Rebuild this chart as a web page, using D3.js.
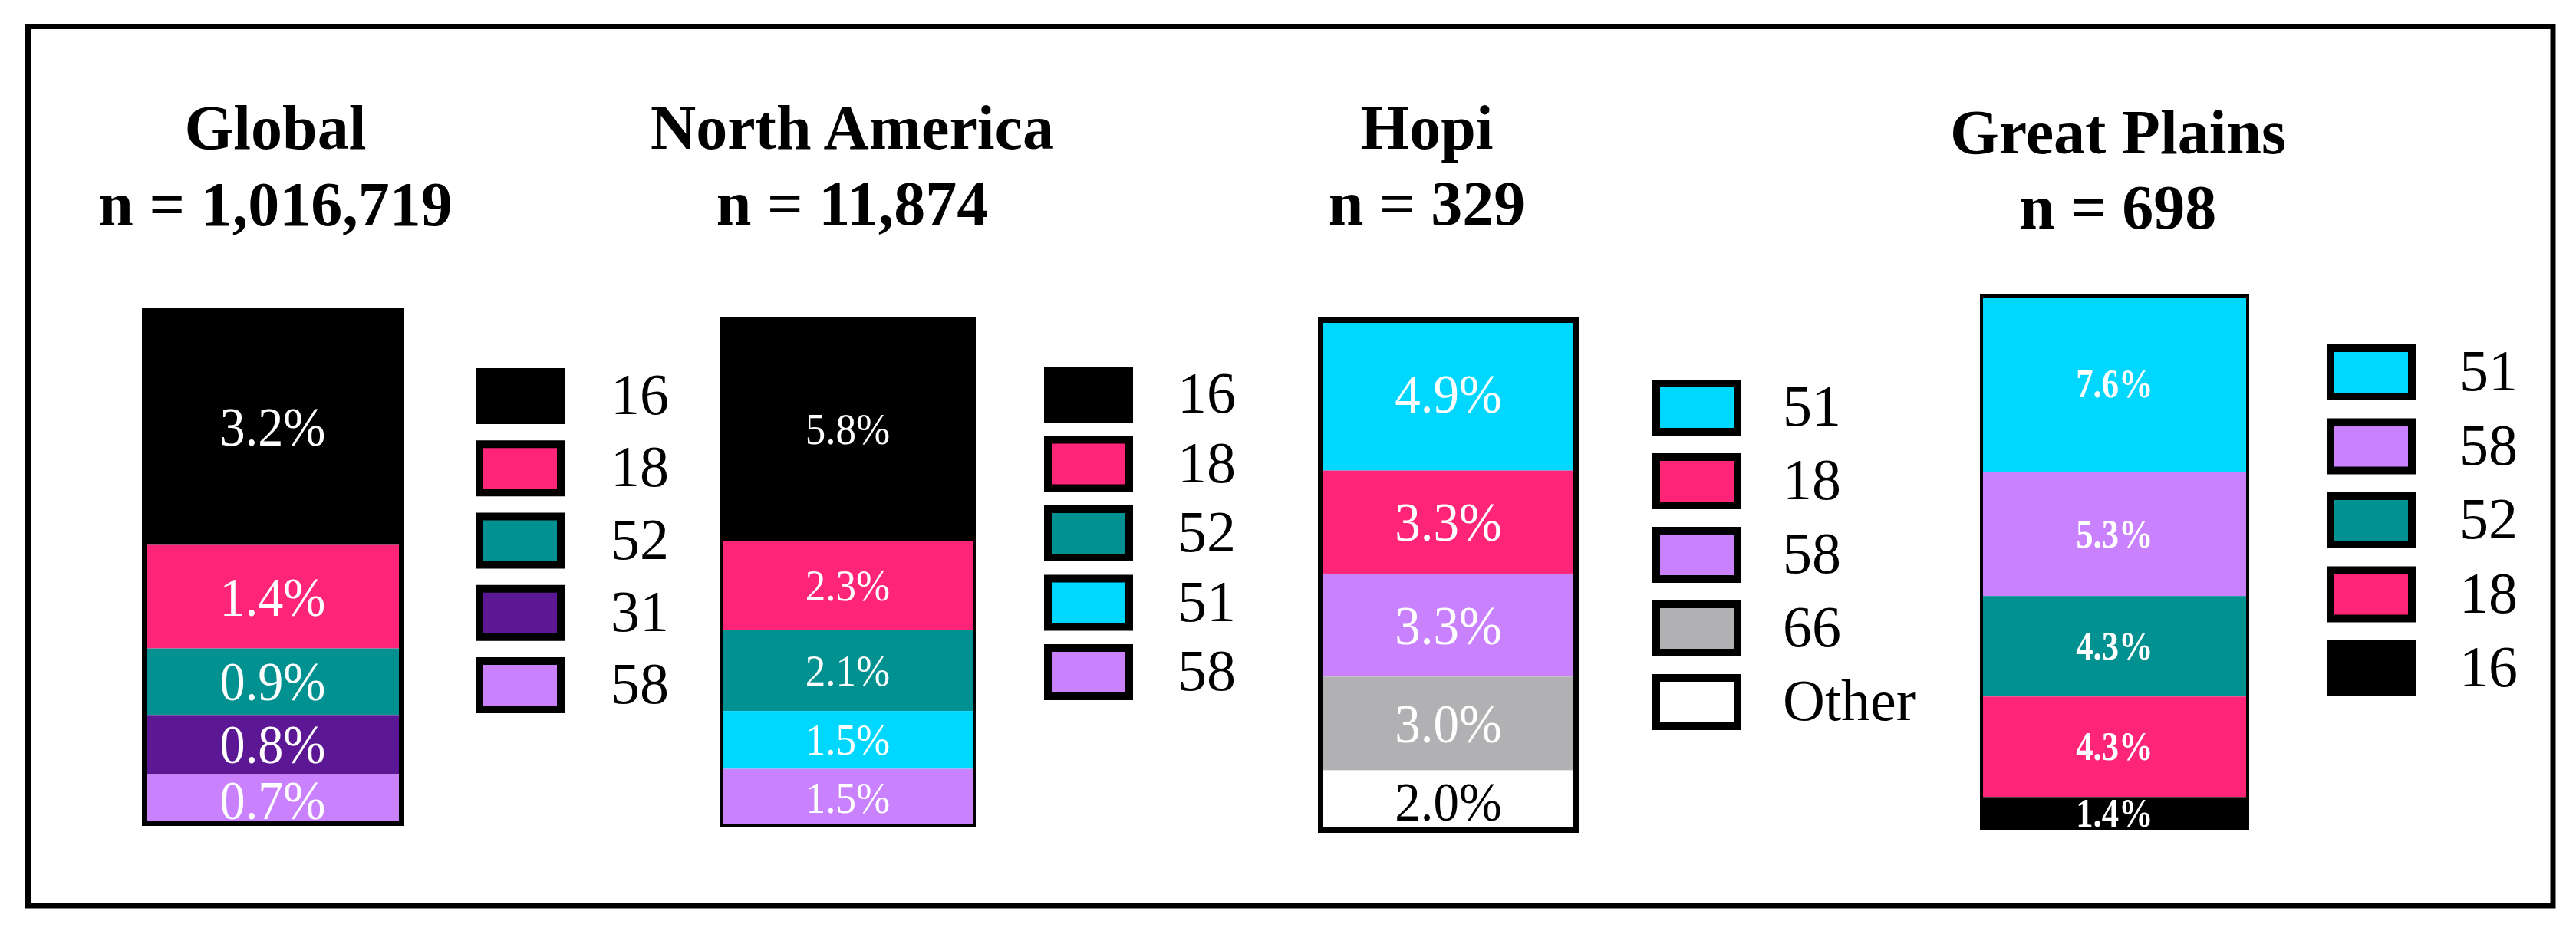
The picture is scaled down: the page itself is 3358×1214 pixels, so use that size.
<!DOCTYPE html>
<html>
<head>
<meta charset="utf-8">
<script src="https://cdn.jsdelivr.net/npm/d3@7"></script>
<style>
  html, body { margin: 0; padding: 0; background: #fff; }
  svg { display: block; }
</style>
</head>
<body>
<svg id="chart" width="3358" height="1214"></svg>
<script>
// ---------------- DATA ----------------
const regions = ["Global", "North America", "Hopi", "Great Plains"];
const sampleSizes = ["1,016,719", "11,874", "329", "698"];

const globalHaplogroups = ["16", "18", "52", "31", "58"];
const globalPercents    = [3.2, 1.4, 0.9, 0.8, 0.7];

const northAmericaHaplogroups = ["16", "18", "52", "51", "58"];
const northAmericaPercents    = [5.8, 2.3, 2.1, 1.5, 1.5];

const hopiHaplogroups = ["51", "18", "58", "66", "Other"];
const hopiPercents    = [4.9, 3.3, 3.3, 3.0, 2.0];

const greatPlainsHaplogroups = ["51", "58", "52", "18", "16"];
const greatPlainsPercents    = [7.6, 5.3, 4.3, 4.3, 1.4];

const haplogroupKeys   = ["16", "18", "52", "31", "58", "51", "66", "Other"];
const haplogroupColors = ["#000000", "#FE2478", "#009190", "#5C1794", "#C981FE", "#00D7FE", "#B1B1B4", "#FFFFFF"];

// ---------------- LAYOUT (positions/styles only) ----------------
const layout = [
  { x0: 185, x1: 526, top: 402, bottom: 1077, border: 6, tx: 359, ty1: 194, ty2: 294,
    lx: 620, lTop0: 480, lTop1: 857, labX: 796, fs: 72, bold: false, sx: 0.92 },
  { x0: 938, x1: 1272, top: 414, bottom: 1078, border: 4, tx: 1111, ty1: 194, ty2: 293,
    lx: 1361, lTop0: 478, lTop1: 840, labX: 1535, fs: 57, bold: false, sx: 0.93 },
  { x0: 1718, x1: 2058, top: 414, bottom: 1086, border: 7, tx: 1860, ty1: 194, ty2: 293,
    lx: 2154, lTop0: 495, lTop1: 879, labX: 2324, fs: 72, bold: false, sx: 0.93 },
  { x0: 2581, x1: 2932, top: 384, bottom: 1082, border: 4, tx: 2761, ty1: 200, ty2: 298,
    lx: 3033, lTop0: 449, lTop1: 835, labX: 3206, fs: 52, bold: true, sx: 0.86 }
];

const panelData = [
  { keys: globalHaplogroups, values: globalPercents },
  { keys: northAmericaHaplogroups, values: northAmericaPercents },
  { keys: hopiHaplogroups, values: hopiPercents },
  { keys: greatPlainsHaplogroups, values: greatPlainsPercents }
];

// ---------------- DRAW ----------------
const svg = d3.select("#chart");
const color = d3.scaleOrdinal().domain(haplogroupKeys).range(haplogroupColors);
const serif = "'Liberation Serif', 'Times New Roman', 'DejaVu Serif', serif";

// outer frame
svg.append("rect")
  .attr("x", 36.5).attr("y", 34.5)
  .attr("width", 3328 - 36.5).attr("height", 1181 - 34.5)
  .attr("fill", "none").attr("stroke", "#000").attr("stroke-width", 7);

const swW = 116, swH = 73, swStroke = 10;

regions.forEach((name, i) => {
  const L = layout[i];
  const D = panelData[i];
  const g = svg.append("g");

  // title
  const title = g.append("text")
    .attr("text-anchor", "middle")
    .attr("font-family", serif)
    .attr("font-weight", "bold")
    .attr("font-size", 82)
    .attr("fill", "#000");
  title.append("tspan").attr("x", L.tx).attr("y", L.ty1).text(name);
  title.append("tspan").attr("x", L.tx).attr("y", L.ty2).text("n = " + sampleSizes[i]);

  // stacked bar (first item on top)
  const total = d3.sum(D.values);
  const y = d3.scaleLinear().domain([0, total]).range([L.top, L.bottom]);
  const cums = d3.cumsum(D.values);
  const segs = D.keys.map((k, j) => ({
    key: k, value: D.values[j], start: cums[j] - D.values[j], end: cums[j]
  }));

  g.selectAll("rect.seg").data(segs).join("rect")
    .attr("class", "seg")
    .attr("x", L.x0)
    .attr("width", L.x1 - L.x0)
    .attr("y", d => y(d.start))
    .attr("height", d => y(d.end) - y(d.start))
    .attr("fill", d => color(d.key));

  // bar outline
  g.append("rect")
    .attr("x", L.x0 + L.border / 2)
    .attr("y", L.top + L.border / 2)
    .attr("width", L.x1 - L.x0 - L.border)
    .attr("height", L.bottom - L.top - L.border)
    .attr("fill", "none")
    .attr("stroke", "#000")
    .attr("stroke-width", L.border);

  // segment labels
  const cx = (L.x0 + L.x1) / 2;
  g.selectAll("text.lab").data(segs).join("text")
    .attr("class", "lab")
    .attr("transform", d => `translate(${cx},${(y(d.start) + y(d.end)) / 2}) scale(${L.sx},1)`)
    .attr("text-anchor", "middle")
    .attr("dy", "0.34em")
    .attr("font-family", serif)
    .attr("font-weight", L.bold ? "bold" : "normal")
    .attr("font-size", L.fs)
    .attr("fill", d => d.key === "Other" ? "#000" : "#fff")
    .text(d => d.value.toFixed(1) + "%");

  // legend
  const ly = d3.scalePoint().domain(D.keys).range([L.lTop0, L.lTop1]);
  const items = g.selectAll("g.leg").data(D.keys).join("g")
    .attr("class", "leg")
    .attr("transform", k => `translate(0,${ly(k)})`);
  items.append("rect")
    .attr("x", L.lx + swStroke / 2)
    .attr("y", swStroke / 2)
    .attr("width", swW - swStroke)
    .attr("height", swH - swStroke)
    .attr("fill", k => color(k))
    .attr("stroke", "#000")
    .attr("stroke-width", swStroke);
  items.append("text")
    .attr("x", L.labX)
    .attr("y", swH / 2)
    .attr("dy", "0.31em")
    .attr("font-family", serif)
    .attr("font-size", 76)
    .attr("fill", "#000")
    .text(k => k);
});
</script>
</body>
</html>
